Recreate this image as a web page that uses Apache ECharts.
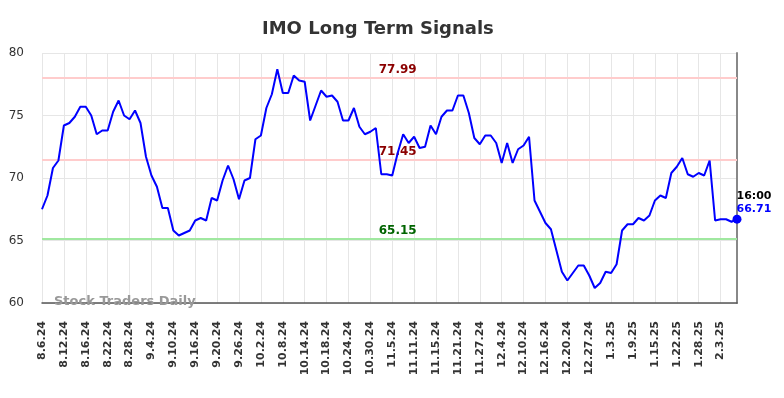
<!DOCTYPE html>
<html>
<head>
<meta charset="utf-8">
<title>IMO Long Term Signals</title>
<script src="https://cdn.jsdelivr.net/npm/echarts@6/dist/echarts.min.js"></script>
<style>
  html, body { margin: 0; padding: 0; background: #fff; }
  #chart { width: 784px; height: 398px; }
</style>
</head>
<body>
<div id="chart"></div>
<script>
// trading days, m.d.yy
const dates = [
  "8.6.24", "8.7.24", "8.8.24", "8.9.24", "8.12.24", "8.13.24", "8.14.24", "8.15.24", "8.16.24", "8.19.24",
  "8.20.24", "8.21.24", "8.22.24", "8.23.24", "8.26.24", "8.27.24", "8.28.24", "8.29.24", "8.30.24", "9.3.24",
  "9.4.24", "9.5.24", "9.6.24", "9.9.24", "9.10.24", "9.11.24", "9.12.24", "9.13.24", "9.16.24", "9.17.24",
  "9.18.24", "9.19.24", "9.20.24", "9.23.24", "9.24.24", "9.25.24", "9.26.24", "9.27.24", "9.30.24", "10.1.24",
  "10.2.24", "10.3.24", "10.4.24", "10.7.24", "10.8.24", "10.9.24", "10.10.24", "10.11.24", "10.14.24", "10.15.24",
  "10.16.24", "10.17.24", "10.18.24", "10.21.24", "10.22.24", "10.23.24", "10.24.24", "10.25.24", "10.28.24", "10.29.24",
  "10.30.24", "10.31.24", "11.1.24", "11.4.24", "11.5.24", "11.6.24", "11.7.24", "11.8.24", "11.11.24", "11.12.24",
  "11.13.24", "11.14.24", "11.15.24", "11.18.24", "11.19.24", "11.20.24", "11.21.24", "11.22.24", "11.25.24", "11.26.24",
  "11.27.24", "11.29.24", "12.2.24", "12.3.24", "12.4.24", "12.5.24", "12.6.24", "12.9.24", "12.10.24", "12.11.24",
  "12.12.24", "12.13.24", "12.16.24", "12.17.24", "12.18.24", "12.19.24", "12.20.24", "12.23.24", "12.24.24", "12.26.24",
  "12.27.24", "12.30.24", "12.31.24", "1.2.25", "1.3.25", "1.6.25", "1.7.25", "1.8.25", "1.9.25", "1.10.25",
  "1.13.25", "1.14.25", "1.15.25", "1.16.25", "1.17.25", "1.21.25", "1.22.25", "1.23.25", "1.24.25", "1.27.25",
  "1.28.25", "1.29.25", "1.30.25", "1.31.25", "2.3.25", "2.4.25", "2.5.25", "2.6.25"
];

const prices = [
  67.5, 68.6, 70.8, 71.4, 74.2, 74.4, 74.9, 75.7, 75.7, 75.0,
  73.5, 73.8, 73.8, 75.3, 76.2, 75.0, 74.7, 75.4, 74.4, 71.7,
  70.2, 69.3, 67.6, 67.6, 65.8, 65.4, 65.6, 65.8, 66.6, 66.8,
  66.6, 68.4, 68.2, 69.8, 71.0, 69.9, 68.3, 69.8, 70.0, 73.1,
  73.4, 75.6, 76.7, 78.7, 76.8, 76.8, 78.2, 77.8, 77.7, 74.6,
  75.8, 77.0, 76.5, 76.6, 76.1, 74.6, 74.6, 75.6, 74.1, 73.5,
  73.7, 74.0, 70.3, 70.3, 70.2, 72.0, 73.5, 72.8, 73.3, 72.4,
  72.5, 74.2, 73.5, 74.9, 75.4, 75.4, 76.6, 76.6, 75.2, 73.2,
  72.7, 73.4, 73.4, 72.8, 71.2, 72.8, 71.2, 72.3, 72.6, 73.3,
  68.2, 67.3, 66.4, 65.9, 64.2, 62.5, 61.8, 62.4, 63.0, 63.0,
  62.2, 61.2, 61.6, 62.5, 62.4, 63.1, 65.8, 66.3, 66.3, 66.8,
  66.6, 67.0, 68.2, 68.6, 68.4, 70.4, 70.9, 71.6, 70.3, 70.1,
  70.4, 70.2, 71.4, 66.6, 66.7, 66.7, 66.5, 66.71
];

const yTicks = [60, 65, 70, 75, 80];

const resistanceHigh = 77.99;
const resistanceLow = 71.45;
const support = 65.15;
const lastTime = "16:00";

const FONT = "DejaVu Sans";
const levelLabelAt = dates[65]; // where the level numbers sit along the x axis

const lastIdx = prices.length - 1;

const levelLine = (value, color) => ({
  yAxis: value,
  lineStyle: { color: color, width: 2, type: "solid" },
});

const levelLabel = (value, color) => ({
  coord: [levelLabelAt, value],
  symbol: "circle",
  symbolSize: 0,
  label: {
    show: true,
    position: "top",
    distance: 2,
    formatter: value.toFixed(2),
    color: color,
    fontFamily: FONT,
    fontWeight: "bold",
    fontSize: 12,
  },
});

const chart = echarts.init(document.getElementById("chart"));

chart.setOption({
  animation: false,
  title: {
    text: "IMO Long Term Signals",
    left: 257,
    top: 15,
    textStyle: {
      fontFamily: FONT,
      fontSize: 18,
      fontWeight: "bold",
      color: "#333",
    },
  },
  grid: { left: 42, right: 47, top: 53, bottom: 95 },
  graphic: [
    {
      type: "text",
      left: 54,
      top: 295,
      z: 10,
      style: {
        text: "Stock Traders Daily",
        fill: "#999",
        font: "bold 13px 'DejaVu Sans'",
      },
    },
  ],
  xAxis: {
    type: "category",
    data: dates,
    boundaryGap: false,
    axisLine: { show: true, lineStyle: { color: "#555", width: 1.5 } },
    axisTick: { show: false },
    axisLabel: {
      interval: 3,
      rotate: 90,
      margin: 18,
      fontFamily: FONT,
      fontWeight: "bold",
      fontSize: 11,
      color: "#333",
    },
    splitLine: {
      show: true,
      interval: 3,
      lineStyle: { color: "#e6e6e6", width: 1 },
    },
  },
  yAxis: [
    {
      type: "value",
      min: yTicks[0],
      max: yTicks[yTicks.length - 1],
      interval: 5,
      axisLine: { show: false },
      axisTick: { show: false },
      axisLabel: {
        margin: 18,
        fontFamily: FONT,
        fontSize: 12,
        color: "#333",
      },
      splitLine: { show: true, lineStyle: { color: "#e6e6e6", width: 1 } },
    },
    {
      type: "value",
      position: "right",
      min: yTicks[0],
      max: yTicks[yTicks.length - 1],
      axisLine: { show: true, lineStyle: { color: "#888", width: 2 } },
      axisTick: { show: false },
      axisLabel: { show: false },
      splitLine: { show: false },
    },
  ],
  series: [
    {
      type: "line",
      data: prices,
      showSymbol: false,
      lineStyle: { color: "#0000ff", width: 2 },
      itemStyle: { color: "#0000ff" },
      z: 5,
      markLine: {
        silent: true,
        symbol: "none",
        label: { show: false },
        z: 1,
        data: [
          levelLine(resistanceHigh, "#ffcccc"),
          levelLine(resistanceLow, "#ffcccc"),
          levelLine(support, "#a0e8a0"),
        ],
      },
      markPoint: {
        silent: true,
        data: [
          levelLabel(resistanceHigh, "#8b0000"),
          levelLabel(resistanceLow, "#8b0000"),
          levelLabel(support, "#006400"),
          {
            coord: [dates[lastIdx], prices[lastIdx]],
            symbol: "circle",
            symbolSize: 9,
            itemStyle: { color: "#0000ff" },
            label: {
              show: true,
              position: [4, -25],
              align: "left",
              formatter: "{t|" + lastTime + "}\n{v|" + prices[lastIdx].toFixed(2) + "}",
              rich: {
                t: { fontFamily: FONT, fontWeight: "bold", fontSize: 11, color: "#000", lineHeight: 13 },
                v: { fontFamily: FONT, fontWeight: "bold", fontSize: 11, color: "#0000ff", lineHeight: 13 },
              },
            },
          },
        ],
      },
    },
  ],
});
</script>
</body>
</html>
